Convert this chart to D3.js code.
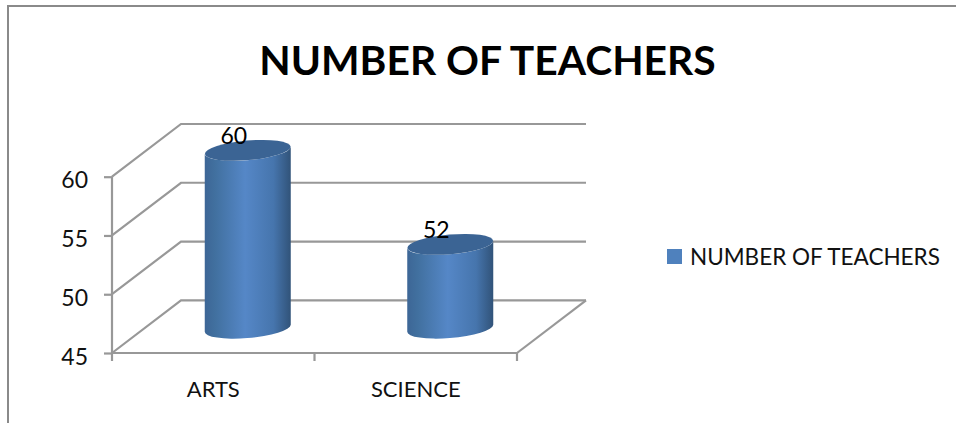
<!DOCTYPE html>
<html>
<head>
<meta charset="utf-8">
<script src="https://cdn.jsdelivr.net/npm/d3@7"></script>
<style>
  html, body { margin: 0; padding: 0; background: #fff; }
  svg { display: block; font-family: Lato, sans-serif; fill: #000; }
  .wall { stroke: #989898; stroke-width: 2.2; fill: none; }
  .axis path { display: none; }
  .axis line { stroke: #989898; stroke-width: 2.2; }
  .axis text { font-family: Lato, sans-serif; fill: #111; }
</style>
</head>
<body>
<svg id="chart" width="956" height="423"></svg>
<script>
var categories = ["ARTS", "SCIENCE"];
var teachers = [60, 52];
var yTicks = [45, 50, 55, 60];
var seriesName = "NUMBER OF TEACHERS";
var chartTitle = "NUMBER OF TEACHERS";

var svg = d3.select("#chart");

// 3d box: front plane plus a depth offset to the back wall
var depthX = 69, depthY = -52.7;

var x = d3.scaleBand().domain(categories).range([112, 517]);
var y = d3.scaleLinear().domain([45, 60]).range([353, 176.7]);

// outer frame
svg.append("path")
  .attr("d", "M8,423V6H956")
  .attr("fill", "none")
  .attr("stroke", "#8a8a8a")
  .attr("stroke-width", 2);

svg.append("text")
  .attr("x", 487.5)
  .attr("y", 75)
  .attr("text-anchor", "middle")
  .attr("font-size", 40.8)
  .attr("font-weight", 700)
  .attr("fill", "#000")
  .text(chartTitle);

var defs = svg.append("defs");
var grad = defs.append("linearGradient").attr("id", "cyl");
grad.selectAll("stop")
  .data([[0, "#3d6696"], [0.12, "#41709f"], [0.47, "#5587c7"], [0.8, "#4675ad"], [1, "#315379"]])
  .enter().append("stop")
  .attr("offset", function(d) { return d[0]; })
  .attr("stop-color", function(d) { return d[1]; });

// back wall gridlines and left wall diagonals
var walls = svg.append("g").attr("class", "wall");
yTicks.forEach(function(t) {
  walls.append("path")
    .attr("d", "M" + x.range()[0] + "," + y(t) + "l" + depthX + "," + depthY + "H" + (x.range()[1] + depthX));
});
walls.append("path")
  .attr("d", "M" + x.range()[1] + "," + y(45) + "l" + depthX + "," + depthY);
walls.append("path")
  .attr("d", "M" + x.range()[0] + "," + y(60) + "V" + y(45) + "H" + x.range()[1]);

// y axis
var yAxis = svg.append("g")
  .attr("class", "axis")
  .attr("transform", "translate(112,0)")
  .call(d3.axisLeft(y).tickValues(yTicks).tickSize(8).tickPadding(16));
yAxis.selectAll("text").attr("font-size", 23).attr("dy", "0.48em");

// x axis: labels at band centres, tick marks on the band edges
var xAxis = svg.append("g")
  .attr("class", "axis")
  .attr("transform", "translate(0," + y(45) + ")")
  .call(d3.axisBottom(x).tickSize(0).tickPadding(28));
xAxis.selectAll("text").attr("font-size", 22);
xAxis.selectAll(".edge")
  .data(x.domain().map(function(c) { return x(c); }).concat(x.range()[1]))
  .enter().append("line")
  .attr("class", "edge")
  .attr("x1", function(d) { return d; })
  .attr("x2", function(d) { return d; })
  .attr("y1", 0)
  .attr("y2", 8);

// cylinders
var rx = 43, ry = 9.8, tilt = -5;

function cylinderBody(d) {
  var cx = x(d.cat) + x.bandwidth() / 2 + depthX / 2;
  var topY = y(d.val) + depthY / 2;
  var baseY = y(45) + depthY / 2 + 1.5;
  var dy = 3.5;
  return "M" + (cx - rx) + "," + (topY + dy) +
    "V" + (baseY + dy) +
    "A" + rx + "," + ry + " " + tilt + " 0 0 " + (cx + rx) + "," + (baseY - dy) +
    "V" + (topY - dy) +
    "A" + rx + "," + ry + " " + tilt + " 0 1 " + (cx - rx) + "," + (topY + dy) + "Z";
}

var rows = categories.map(function(c, i) { return { cat: c, val: teachers[i] }; });

var bar = svg.selectAll(".bar")
  .data(rows)
  .enter().append("g")
  .attr("class", "bar");

bar.append("path")
  .attr("d", cylinderBody)
  .attr("fill", "url(#cyl)");

bar.append("ellipse")
  .attr("rx", rx)
  .attr("ry", ry)
  .attr("fill", "#3b6494")
  .attr("transform", function(d) {
    return "translate(" + (x(d.cat) + x.bandwidth() / 2 + depthX / 2) + "," + (y(d.val) + depthY / 2) + ") rotate(" + tilt + ")";
  });

bar.append("text")
  .attr("x", function(d) { return x(d.cat) + x.bandwidth() / 2 + 20.5; })
  .attr("y", function(d) { return y(d.val) - 33; })
  .attr("text-anchor", "middle")
  .attr("font-size", 23)
  .attr("fill", "#000")
  .text(function(d) { return d.val; });

// legend
svg.append("rect")
  .attr("x", 667)
  .attr("y", 249)
  .attr("width", 15)
  .attr("height", 15)
  .attr("fill", "#4f81bd");

svg.append("text")
  .attr("x", 690)
  .attr("y", 265)
  .attr("font-size", 22.5)
  .attr("fill", "#111")
  .text(seriesName);
</script>
</body>
</html>
